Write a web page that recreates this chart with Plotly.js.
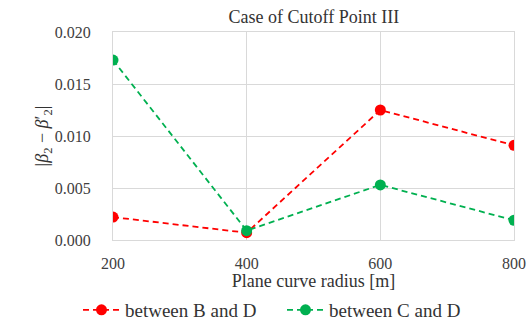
<!DOCTYPE html>
<html>
<head>
<meta charset="utf-8">
<script src="https://cdn.plot.ly/plotly-3.0.1.min.js"></script>
<style>html,body{margin:0;padding:0;background:#fff;}#chart{width:532px;height:332px;}</style>
</head>
<body>
<div id="chart"></div>
<script>
const radii = [200, 400, 600, 800];
const betweenBD = [0.0022, 0.0007, 0.0125, 0.0091];
const betweenCD = [0.0173, 0.0009, 0.0053, 0.0019];
const seriesNames = ["between B and D", "between C and D"];
const yTicks = [0, 0.005, 0.01, 0.015, 0.02];
const yTickLabels = ["0.000", "0.005", "0.010", "0.015", "0.020"];

const font = "Liberation Serif, Times New Roman, serif";
const traces = [
  {x: radii, y: betweenBD, name: seriesNames[0], type: "scatter", mode: "lines+markers", legend: "legend",
   line: {color: "#FF0000", dash: "6px,4px", width: 1.8}, marker: {color: "#FF0000", size: 11}},
  {x: radii, y: betweenCD, name: seriesNames[1], type: "scatter", mode: "lines+markers", legend: "legend2",
   line: {color: "#00B050", dash: "6px,4px", width: 1.8}, marker: {color: "#00B050", size: 11}}
];
const legendBase = {orientation: "h", xanchor: "left", xref: "container", y: 1 - 310/332, yanchor: "middle",
                    yref: "container", itemwidth: 37, bgcolor: "rgba(0,0,0,0)",
                    font: {family: font, size: 19, color: "#333"}};
const layout = {
  width: 532, height: 332,
  margin: {l: 113, r: 18, t: 32, b: 92},
  paper_bgcolor: "#fff", plot_bgcolor: "#fff",
  font: {family: font, color: "#404040", size: 16},
  title: {text: "Case of Cutoff Point III", x: 0.59, xanchor: "center", y: 0.949, yanchor: "middle",
          font: {family: font, size: 18, color: "#333"}},
  xaxis: {range: [200, 800], tickvals: radii, ticktext: radii.map(String), automargin: false,
          showgrid: true, gridcolor: "#d9d9d9", showline: true, linecolor: "#d9d9d9", mirror: true,
          zeroline: false, ticks: "", ticklabelstandoff: 9,
          tickfont: {family: font, size: 16, color: "#404040"},
          title: {text: "Plane curve radius [m]", standoff: 4, font: {family: font, size: 18, color: "#333"}}},
  yaxis: {range: [0, 0.02], tickvals: yTicks, ticktext: yTickLabels, automargin: false,
          showgrid: true, gridcolor: "#d9d9d9", showline: true, linecolor: "#d9d9d9", mirror: true,
          zeroline: false, ticks: "", ticklabelstandoff: 18,
          tickfont: {family: font, size: 16, color: "#404040"},
          title: {text: "|<i>β</i><sub>2</sub> − <i>β</i>′<sub>2</sub>|", standoff: 0,
                  font: {family: font, size: 18, color: "#333"}}},
  showlegend: true,
  legend: Object.assign({}, legendBase, {x: 78 / 532}),
  legend2: Object.assign({}, legendBase, {x: 282 / 532})
};
const gd = document.getElementById("chart");
Plotly.newPlot(gd, traces, layout, {displayModeBar: false, staticPlot: true});
</script>
</body>
</html>
